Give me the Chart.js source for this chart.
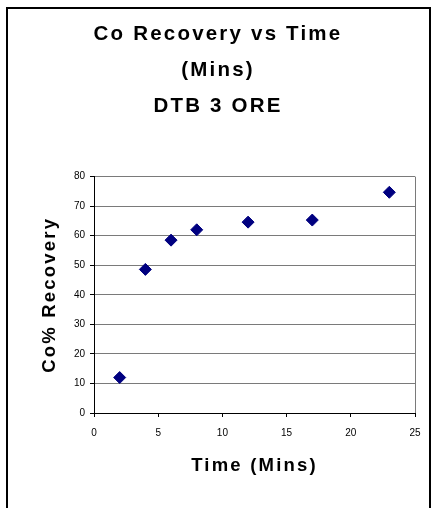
<!DOCTYPE html>
<html>
<head>
<meta charset="utf-8">
<script src="https://cdn.jsdelivr.net/npm/chart.js@4"></script>
<style>
  html, body { margin: 0; padding: 0; background: #fff; }
  canvas { display: block; }
</style>
</head>
<body>
<canvas id="recoveryChart" width="436" height="508"></canvas>
<script>
// data
const timeMins = [2, 4, 6, 8, 12, 17, 23];
const coRecovery = [12, 48.6, 58.5, 62, 64.6, 65.3, 74.7];
const titleLines = ['Co Recovery vs Time', '(Mins)', 'DTB 3 ORE'];
const xTitle = 'Time (Mins)';
const yTitle = 'Co% Recovery';

const FONT = "'Liberation Sans', Arial, sans-serif";

// outer frame + letter spacing for the titles (tick labels are drawn after datasets, unspaced)
const framePlugin = {
    id: 'frame',
    beforeDraw(chart) {
        const ctx = chart.ctx;
        ctx.save();
        ctx.fillStyle = '#fff';
        ctx.fillRect(0, 0, chart.width, chart.height);
        ctx.strokeStyle = '#000';
        ctx.lineWidth = 2;
        ctx.strokeRect(7, 8, 423, 600);
        ctx.restore();
        ctx.letterSpacing = '2.2px';
    },
    beforeDatasetsDraw(chart) {
        chart.ctx.letterSpacing = '0px';
    }
};

const points = timeMins.map((t, i) => ({ x: t, y: coRecovery[i] }));

new Chart(document.getElementById('recoveryChart').getContext('2d'), {
    type: 'scatter',
    data: {
        datasets: [{
            label: 'Co Recovery',
            data: points,
            pointStyle: 'rectRot',
            pointRadius: 6,
            pointHoverRadius: 6,
            backgroundColor: '#000080',
            borderColor: '#000080',
            borderWidth: 1
        }]
    },
    options: {
        responsive: false,
        animation: false,
        events: [],
        layout: { padding: 0 },
        plugins: {
            legend: { display: false },
            tooltip: { enabled: false },
            title: {
                display: true,
                text: titleLines,
                color: '#000',
                font: { family: FONT, size: 20.5, weight: 'bold', lineHeight: 1.75 },
                padding: { top: 16.5, bottom: 52.5 }
            }
        },
        scales: {
            x: {
                type: 'linear',
                min: 0,
                max: 25,
                afterFit(scale) { scale.height = 95; },
                ticks: {
                    stepSize: 5,
                    color: '#000',
                    padding: 10,
                    z: 1,
                    font: { family: FONT, size: 10 }
                },
                grid: {
                    color: (c) => (c.tick && c.tick.value === 25 ? '#7a7a7a' : 'rgba(0,0,0,0)'),
                    tickColor: '#000',
                    tickLength: 4,
                    lineWidth: 1
                },
                border: { color: '#000', width: 1 },
                title: {
                    display: true,
                    text: xTitle,
                    color: '#000',
                    font: { family: FONT, size: 18.5, weight: 'bold', lineHeight: 1.2 },
                    padding: { top: 0, bottom: 31 }
                }
            },
            y: {
                type: 'linear',
                min: 0,
                max: 80,
                afterFit(scale) { scale.width = 94; },
                ticks: {
                    stepSize: 10,
                    color: '#000',
                    padding: 5,
                    z: 1,
                    font: { family: FONT, size: 10 }
                },
                grid: {
                    color: '#7a7a7a',
                    tickColor: '#000',
                    tickLength: 4,
                    lineWidth: 1
                },
                border: { color: '#000', width: 1 },
                title: {
                    display: true,
                    text: yTitle,
                    color: '#000',
                    font: { family: FONT, size: 18.5, weight: 'bold', lineHeight: 1.2 },
                    padding: { top: 39, bottom: 0 }
                }
            },
            // empty strip on the right so the plot ends at x=25 while the title stays centred
            rightGap: {
                type: 'linear',
                position: 'right',
                display: true,
                afterFit(scale) { scale.width = 21; },
                ticks: { display: false },
                grid: { display: false },
                border: { display: false }
            }
        }
    },
    plugins: [framePlugin]
});
</script>
</body>
</html>
